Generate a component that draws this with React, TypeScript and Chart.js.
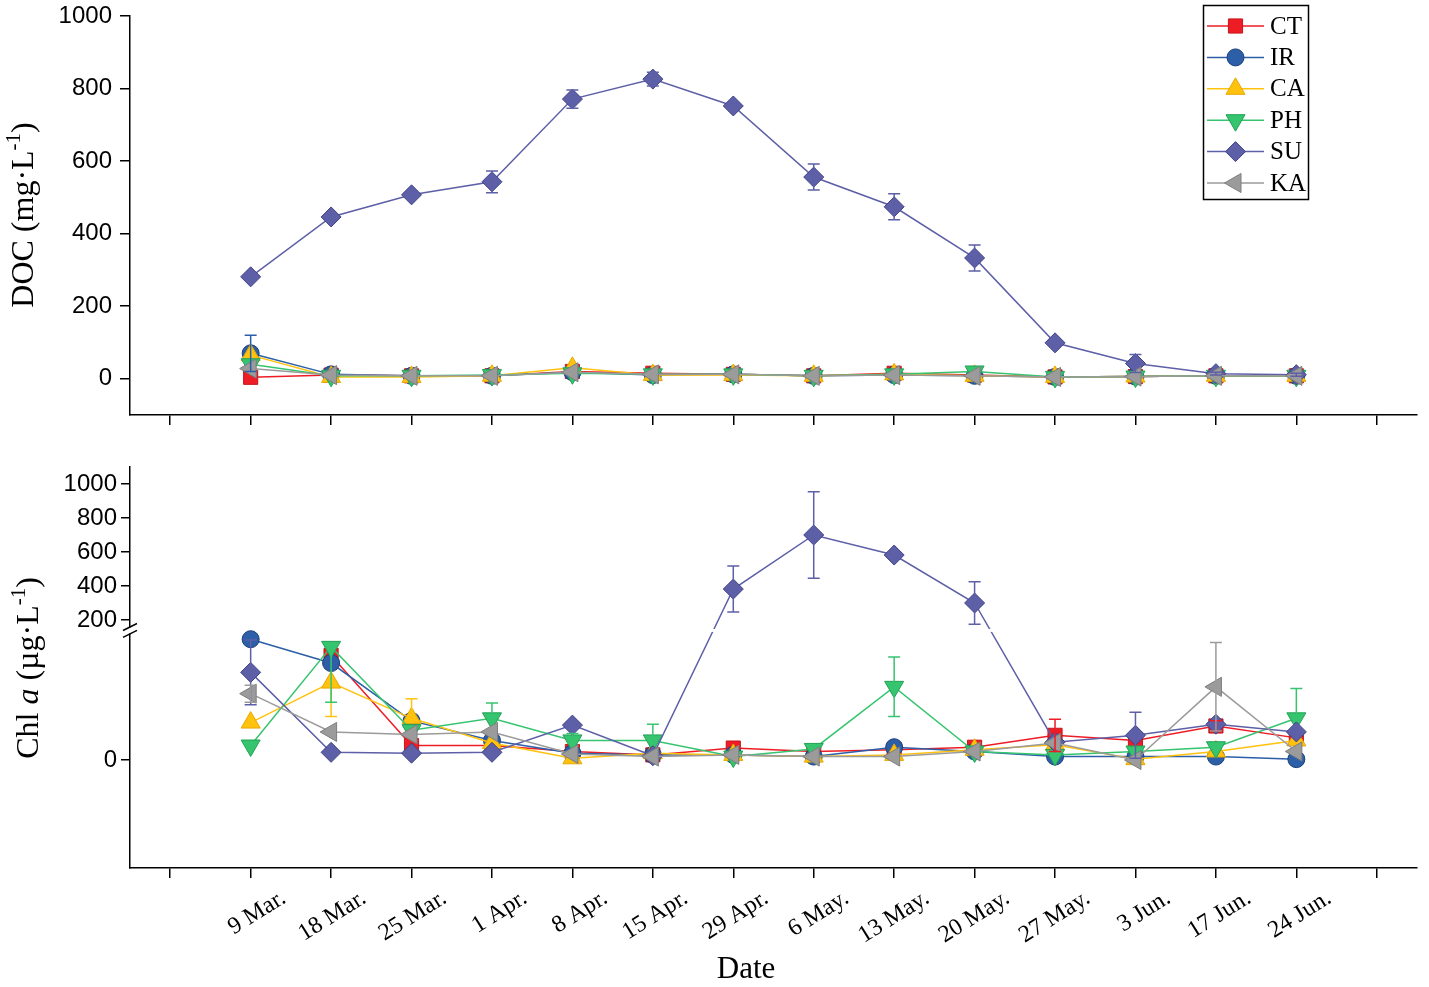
import React, { useEffect, useRef } from 'react';
import { Chart, registerables, LinearScale } from 'chart.js';

// ---------------- data ----------------
const dates = ['9 Mar.', '18 Mar.', '25 Mar.', '1 Apr.', '8 Apr.', '15 Apr.', '29 Apr.', '6 May.', '13 May.', '20 May.', '27 May.', '3 Jun.', '17 Jun.', '24 Jun.'];
const xTickValues = [-1, 0, 1, 2, 3, 4, 5, 6, 7, 8, 9, 10, 11, 12, 13, 14];
const docTicks = [0, 200, 400, 600, 800, 1000];
const chlTicks = [0, 200, 400, 600, 800, 1000];
const seriesNames = ['CT', 'IR', 'CA', 'PH', 'SU', 'KA'];

// DOC (mg·L-1)
const docCT = [4, 10, 8, 8, 20, 15, 12, 8, 15, 10, 5, 6, 8, 8];
const docIR = [70, 12, 8, 8, 18, 10, 12, 8, 10, 8, 5, 6, 8, 8];
const docCA = [65, 5, 5, 8, 30, 10, 10, 8, 12, 8, 5, 6, 8, 8];
const docPH = [40, 8, 8, 10, 15, 12, 12, 8, 12, 20, 5, 6, 8, 8];
const docSU = [281, 446, 507, 543, 771, 826, 752, 556, 474, 333, 99, 42, 14, 11];
const docKA = [28, 10, 8, 8, 18, 12, 12, 8, 10, 8, 5, 6, 8, 8];

const docErrCT = [0, 0, 0, 0, 0, 0, 0, 0, 0, 0, 0, 0, 0, 0];
const docErrIR = [50, 0, 0, 0, 0, 0, 0, 0, 0, 0, 0, 0, 0, 0];
const docErrCA = [0, 0, 0, 0, 0, 0, 0, 0, 0, 0, 0, 0, 0, 0];
const docErrPH = [0, 0, 0, 0, 0, 0, 0, 0, 0, 0, 0, 0, 0, 0];
const docErrSU = [5, 8, 8, 30, 25, 19, 5, 36, 36, 36, 6, 25, 4, 4];
const docErrKA = [0, 0, 0, 0, 0, 0, 0, 0, 0, 0, 0, 0, 0, 0];

// Chl a (µg·L-1)
const chlCT = [null, 123, 17, 17, 10, 6, 14, 10, 12, 15, 29, 23, 40, 26];
const chlIR = [142, 114, 46, 23, 8, 6, 6, 4, 15, 10, 4, 4, 4, 1];
const chlCA = [44, 91, 49, 20, 2, 8, 6, 4, 6, 12, 18, 1, 10, 23];
const chlPH = [17, 133, 35, 49, 23, 23, 4, 13, 86, 10, 6, 10, 15, 49];
const chlSU = [103, 9, 8, 9, 41, 5, 382, 700, 582, 300, 21, 29, 42, 33];
const chlKA = [78, 33, 30, 33, 7, 4, 6, 4, 4, 10, 20, 0, 86, 10];

const chlErrCT = [0, 0, 0, 0, 0, 0, 0, 0, 0, 0, 19, 0, 6, 0];
const chlErrIR = [0, 0, 0, 0, 0, 0, 0, 0, 0, 0, 0, 0, 0, 0];
const chlErrCAUp = [0, 0, 23, 0, 0, 0, 0, 0, 0, 0, 0, 0, 0, 0];
const chlErrCADown = [0, 40, 0, 0, 0, 0, 0, 0, 0, 0, 0, 0, 0, 0];
const chlErrPHUp = [0, 0, 0, 18, 8, 19, 0, 0, 35, 0, 0, 0, 0, 35];
const chlErrPHDown = [0, 65, 0, 0, 0, 0, 0, 0, 35, 0, 0, 0, 0, 0];
const chlErrSU = [38, 0, 0, 0, 0, 0, 135, 255, 0, 125, 0, 27, 0, 0];
const chlErrKA = [10, 0, 0, 0, 0, 0, 0, 0, 0, 0, 0, 0, 52, 0];

// ---------------- styles ----------------
const COLORS = ['#ee1c25', '#2c5fa7', '#ffc20e', '#36c46f', '#5d5fa7', '#9b9b9b'];
const EDGES = ['#c8151c', '#1c3f7a', '#e6a800', '#22a256', '#40428a', '#7e7e7e'];
const STYLES = ['rect', 'circle', 'triangle', 'triangle', 'rectRot', 'triangle'];
const ROTS = [0, 0, 0, 180, 0, -90];
const RADII = [10, 8.5, 11, 11, 10, 11];
const ORDERS = [5, 4, 3, 2, 1, 0];

// broken axis configuration (Chl a)
const BREAK_VAL = 150;
const LOW_FRAC = 0.5875;
const HIGH_FRAC = 0.4027;

class BrokenScale extends LinearScale {
  static id = 'brokenLinear';
  static defaults = LinearScale.defaults;
  getPixelForValue(value: any) {
    if (value === null || value === undefined || isNaN(value)) return NaN;
    const s: any = this;
    const h = s.bottom - s.top;
    if (value <= BREAK_VAL) {
      return s.bottom - ((value - s.min) / (BREAK_VAL - s.min)) * LOW_FRAC * h;
    }
    return s.top + ((s.max - value) / (s.max - BREAK_VAL)) * HIGH_FRAC * h;
  }
  getValueForPixel(pixel: number) {
    const s: any = this;
    const h = s.bottom - s.top;
    const lowTop = s.bottom - LOW_FRAC * h;
    if (pixel >= lowTop) return s.min + ((s.bottom - pixel) / (LOW_FRAC * h)) * (BREAK_VAL - s.min);
    return s.max - ((pixel - s.top) / (HIGH_FRAC * h)) * (s.max - BREAK_VAL);
  }
}

Chart.register(...registerables, BrokenScale);

const SERIF = '"Liberation Serif", "Times New Roman", serif';
const SANS = '"Liberation Sans", Arial, sans-serif';

function makeDatasets(values: any[][], errUp: number[][], errDown: number[][]) {
  return seriesNames.map((name, k) => ({
    label: name,
    data: values[k].map((v, i) => ({ x: i, y: v })),
    errUp: errUp[k],
    errDown: errDown[k],
    borderColor: COLORS[k],
    backgroundColor: COLORS[k],
    pointBackgroundColor: COLORS[k],
    pointBorderColor: EDGES[k],
    pointBorderWidth: 1,
    pointStyle: STYLES[k],
    pointRotation: ROTS[k],
    pointRadius: RADII[k],
    borderWidth: 1.5,
    tension: 0,
    spanGaps: false,
    order: ORDERS[k],
  }));
}

const errorBarPlugin = {
  id: 'errorBars',
  afterDatasetsDraw(chart: any) {
    const ctx = chart.ctx;
    const xs = chart.scales.x;
    const ys = chart.scales.y;
    chart.data.datasets.forEach((ds: any) => {
      ctx.save();
      ctx.strokeStyle = ds.borderColor;
      ctx.lineWidth = 1.5;
      ds.data.forEach((p: any, i: number) => {
        if (p.y === null) return;
        const up = ds.errUp ? ds.errUp[i] : 0;
        const dn = ds.errDown ? ds.errDown[i] : 0;
        const x = xs.getPixelForValue(p.x);
        const yc = ys.getPixelForValue(p.y);
        ctx.beginPath();
        if (up) {
          const y1 = ys.getPixelForValue(p.y + up);
          ctx.moveTo(x, yc); ctx.lineTo(x, y1);
          ctx.moveTo(x - 6, y1); ctx.lineTo(x + 6, y1);
        }
        if (dn) {
          const y0 = ys.getPixelForValue(p.y - dn);
          ctx.moveTo(x, yc); ctx.lineTo(x, y0);
          ctx.moveTo(x - 6, y0); ctx.lineTo(x + 6, y0);
        }
        ctx.stroke();
      });
      ctx.restore();
    });
  },
};

function drawMarker(ctx: any, k: number, x: number, y: number) {
  const r = RADII[k];
  ctx.save();
  ctx.fillStyle = COLORS[k];
  ctx.strokeStyle = EDGES[k];
  ctx.lineWidth = 1;
  ctx.translate(x, y);
  ctx.beginPath();
  const st = STYLES[k];
  if (st === 'rect') {
    const s = r * Math.SQRT1_2;
    ctx.rect(-s, -s, 2 * s, 2 * s);
  } else if (st === 'circle') {
    ctx.arc(0, 0, r, 0, Math.PI * 2);
  } else if (st === 'rectRot') {
    ctx.moveTo(-r, 0); ctx.lineTo(0, -r); ctx.lineTo(r, 0); ctx.lineTo(0, r); ctx.closePath();
  } else {
    ctx.rotate((ROTS[k] * Math.PI) / 180);
    for (let j = 0; j < 3; j++) {
      const a = (j * 2 * Math.PI) / 3;
      const px = Math.sin(a) * r, py = -Math.cos(a) * r;
      if (j === 0) ctx.moveTo(px, py); else ctx.lineTo(px, py);
    }
    ctx.closePath();
  }
  ctx.fill();
  ctx.stroke();
  ctx.restore();
}

const legendPlugin = {
  id: 'customLegend',
  afterDraw(chart: any) {
    const ctx = chart.ctx;
    ctx.save();
    ctx.strokeStyle = '#000';
    ctx.lineWidth = 1.5;
    ctx.strokeRect(1203.5, 5.5, 105, 194);
    seriesNames.forEach((name, k) => {
      const y = 26 + k * 31.4;
      ctx.strokeStyle = COLORS[k];
      ctx.lineWidth = 1.5;
      ctx.beginPath();
      ctx.moveTo(1207, y); ctx.lineTo(1264, y);
      ctx.stroke();
      drawMarker(ctx, k, 1235.5, y);
      ctx.fillStyle = '#000';
      ctx.font = `25px ${SERIF}`;
      ctx.textBaseline = 'middle';
      ctx.textAlign = 'left';
      ctx.fillText(name, 1270, y + 1);
    });
    ctx.restore();
  },
};

function drawRotatedTitle(ctx: any, cx: number, cy: number, parts: any[], size: number) {
  ctx.save();
  ctx.translate(cx, cy);
  ctx.rotate(-Math.PI / 2);
  const fontFor = (p: any) => `${p.italic ? 'italic ' : ''}${p.sup ? Math.round(size * 0.65) : size}px ${SERIF}`;
  let total = 0;
  parts.forEach((p) => { ctx.font = fontFor(p); total += ctx.measureText(p.text).width; });
  let x = -total / 2;
  ctx.fillStyle = '#000';
  ctx.textBaseline = 'alphabetic';
  ctx.textAlign = 'left';
  parts.forEach((p) => {
    ctx.font = fontFor(p);
    ctx.fillText(p.text, x, p.sup ? size * 0.35 - size * 0.42 : size * 0.35);
    x += ctx.measureText(p.text).width;
  });
  ctx.restore();
}

const topTitlePlugin = {
  id: 'topTitles',
  afterDraw(chart: any) {
    drawRotatedTitle(chart.ctx, 22, 215, [{ text: 'DOC (mg·L' }, { text: '-1', sup: true }, { text: ')' }], 32);
  },
};

const bottomTitlePlugin = {
  id: 'bottomTitles',
  afterDraw(chart: any) {
    const ctx = chart.ctx;
    drawRotatedTitle(ctx, 27, 228, [{ text: 'Chl ' }, { text: 'a', italic: true }, { text: ' (µg·L' }, { text: '-1', sup: true }, { text: ')' }], 32);
    ctx.save();
    ctx.fillStyle = '#000';
    ctx.font = `31px ${SERIF}`;
    ctx.textAlign = 'center';
    ctx.textBaseline = 'middle';
    ctx.fillText('Date', 746, 530);
    ctx.restore();
  },
};

const breakPlugin = {
  id: 'axisBreak',
  afterDatasetsDraw(chart: any) {
    const ctx = chart.ctx;
    const ys = chart.scales.y;
    const xs = chart.scales.x;
    const yU = ys.getPixelForValue(BREAK_VAL + 0.0001);
    const yL = ys.getPixelForValue(BREAK_VAL);
    const x0 = xs.getPixelForValue(0.5);
    ctx.save();
    ctx.fillStyle = '#fff';
    ctx.fillRect(x0, yU + 0.5, chart.chartArea.right - x0, yL - yU - 1);
    ctx.restore();
  },
  afterDraw(chart: any) {
    const ctx = chart.ctx;
    const ys = chart.scales.y;
    const yU = ys.getPixelForValue(BREAK_VAL + 0.0001);
    const yL = ys.getPixelForValue(BREAK_VAL);
    const left = chart.chartArea.left;
    ctx.save();
    ctx.fillStyle = '#fff';
    ctx.fillRect(left - 3, yU - 1, 6, yL - yU + 2);
    ctx.strokeStyle = '#000';
    ctx.lineWidth = 1.5;
    ctx.beginPath();
    ctx.moveTo(left - 7, yU + 2); ctx.lineTo(left + 7, yU - 5);
    ctx.moveTo(left - 7, yL + 5); ctx.lineTo(left + 7, yL - 2);
    ctx.stroke();
    ctx.restore();
  },
};

function axisCommon(tickLength: number) {
  return {
    grid: { drawOnChartArea: false, drawTicks: true, tickLength, color: '#000', lineWidth: 1.5 },
    border: { display: true, color: '#000', width: 1.5 },
  };
}

function topConfig(): any {
  return {
    type: 'line',
    data: {
      datasets: makeDatasets(
        [docCT, docIR, docCA, docPH, docSU, docKA],
        [docErrCT, docErrIR, docErrCA, docErrPH, docErrSU, docErrKA],
        [docErrCT, docErrIR, docErrCA, docErrPH, docErrSU, docErrKA]
      ),
    },
    options: {
      animation: false,
      responsive: false,
      events: [],
      layout: { padding: { top: 16, right: 4, left: 0, bottom: 0 } },
      plugins: { legend: { display: false }, tooltip: { enabled: false } },
      scales: {
        x: {
          type: 'linear', min: -1.5, max: 14.5, bounds: 'data',
          afterBuildTicks: (s: any) => { s.ticks = xTickValues.map((v) => ({ value: v })); },
          afterFit: (s: any) => { s.height = 25; },
          ticks: { display: false },
          ...axisCommon(10),
        },
        y: {
          type: 'linear', min: -100, max: 1000, bounds: 'data',
          afterBuildTicks: (s: any) => { s.ticks = docTicks.map((v) => ({ value: v })); },
          afterFit: (s: any) => { s.width = 130; },
          ticks: { color: '#000', font: { family: SANS, size: 24, lineHeight: 0.5 }, padding: 8, callback: (v: any) => String(v) },
          ...axisCommon(10),
        },
      },
    },
    plugins: [errorBarPlugin, legendPlugin, topTitlePlugin],
  };
}

function bottomConfig(): any {
  return {
    type: 'line',
    data: {
      datasets: makeDatasets(
        [chlCT, chlIR, chlCA, chlPH, chlSU, chlKA],
        [chlErrCT, chlErrIR, chlErrCAUp, chlErrPHUp, chlErrSU, chlErrKA],
        [chlErrCT, chlErrIR, chlErrCADown, chlErrPHDown, chlErrSU, chlErrKA]
      ),
    },
    options: {
      animation: false,
      responsive: false,
      events: [],
      layout: { padding: { top: 27, right: 4, left: 0, bottom: 0 } },
      plugins: { legend: { display: false }, tooltip: { enabled: false } },
      scales: {
        x: {
          type: 'linear', min: -1.5, max: 14.5, bounds: 'data',
          afterBuildTicks: (s: any) => { s.ticks = xTickValues.map((v) => ({ value: v })); },
          afterFit: (s: any) => { s.height = 119; },
          ticks: {
            color: '#000', font: { family: SERIF, size: 24 }, padding: 6,
            minRotation: 32, maxRotation: 32, autoSkip: false, labelOffset: 33,
            callback: (v: any) => (dates[v] !== undefined ? dates[v] : ''),
          },
          ...axisCommon(10),
        },
        y: {
          type: 'brokenLinear', min: -127, max: 1100, bounds: 'data',
          afterBuildTicks: (s: any) => { s.ticks = chlTicks.map((v) => ({ value: v })); },
          afterFit: (s: any) => { s.width = 130; },
          ticks: { color: '#000', font: { family: SANS, size: 24 }, padding: 4, callback: (v: any) => String(v) },
          ...axisCommon(9),
        },
      },
    },
    plugins: [errorBarPlugin, breakPlugin, bottomTitlePlugin],
  };
}

export default function App() {
  const topRef = useRef<HTMLCanvasElement | null>(null);
  const botRef = useRef<HTMLCanvasElement | null>(null);
  useEffect(() => {
    const c1 = new Chart(topRef.current as any, topConfig());
    const c2 = new Chart(botRef.current as any, bottomConfig());
    return () => { c1.destroy(); c2.destroy(); };
  }, []);
  return (
    <div style={{ position: 'absolute', left: 0, top: 0, width: 1429, height: 987, background: '#fff' }}>
      <canvas ref={topRef} width={1429} height={440} style={{ position: 'absolute', left: 0, top: 0 }} />
      <canvas ref={botRef} width={1429} height={547} style={{ position: 'absolute', left: 0, top: 440 }} />
    </div>
  );
}
